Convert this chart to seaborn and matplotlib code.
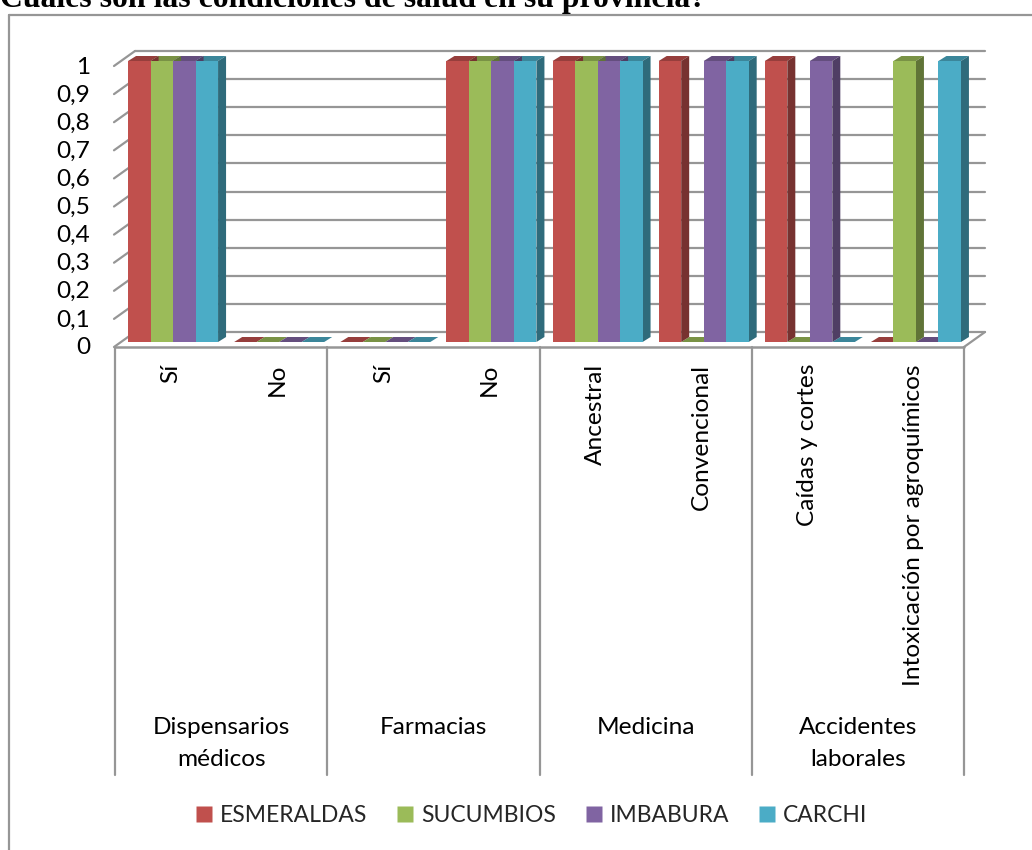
import matplotlib
matplotlib.use("Agg")
import matplotlib.colors as mcolors
import matplotlib.pyplot as plt
import pandas as pd
import seaborn as sns
from matplotlib.lines import Line2D
from matplotlib.patches import Polygon

# data
categories = ["Sí", "No", "Sí ", "No ", "Ancestral", "Convencional",
              "Caídas y cortes", "Intoxicación por agroquímicos"]
tick_labels = ["Sí", "No", "Sí", "No", "Ancestral", "Convencional",
               "Caídas y cortes", "Intoxicación por agroquímicos"]
groups = ["Dispensarios\nmédicos", "Farmacias", "Medicina", "Accidentes\nlaborales"]
esmeraldas = [1, 0, 0, 1, 1, 1, 1, 0]
sucumbios = [1, 0, 0, 1, 1, 0, 0, 1]
imbabura = [1, 0, 0, 1, 1, 1, 1, 0]
carchi = [1, 0, 0, 1, 1, 1, 0, 1]
y_ticks = [0, 0.1, 0.2, 0.3, 0.4, 0.5, 0.6, 0.7, 0.8, 0.9, 1]
y_labels = ["0", "0,1", "0,2", "0,3", "0,4", "0,5", "0,6", "0,7", "0,8", "0,9", "1"]
series_colors = {"ESMERALDAS": "#C0504D", "SUCUMBIOS": "#9BBB59",
                 "IMBABURA": "#8064A2", "CARCHI": "#4BACC6"}

W, H = 1032, 850
GRAY = "#969696"
FONT = "Lato"
FS = 17.6

df = pd.DataFrame({"categoria": categories, "ESMERALDAS": esmeraldas, "SUCUMBIOS": sucumbios,
                   "IMBABURA": imbabura, "CARCHI": carchi})
long_df = df.melt(id_vars="categoria", var_name="provincia", value_name="valor")

sns.set_theme(style="white")
plt.rcParams["font.family"] = [FONT, "DejaVu Sans"]

fig = plt.figure(figsize=(W / 100, H / 100), dpi=100)
# axes box: x=-0.5..7.5 -> px 120..969, y=0..1 -> px 342..61
ax = fig.add_axes([120 / W, 1 - 342 / H, 849 / W, 281 / H])
ax.patch.set_alpha(0)

sns.barplot(data=long_df, x="categoria", y="valor", hue="provincia",
            palette=series_colors, saturation=1, width=0.848, gap=0,
            dodge=True, legend=False, ax=ax, zorder=5)
ax.set_xlim(-0.5, 7.5)
ax.set_ylim(0, 1)
ax.set_xlabel("")
ax.set_ylabel("")
ax.set_xticks([])
ax.set_yticks([])
for s in ax.spines.values():
    s.set_visible(False)


# pixel offsets -> data units
def px_x(p):
    return p * 8 / 849


def px_y(p):
    return p / 281


# fake 3D faces of each bar
dx, dy = px_x(8), px_y(5)
for bar, color in zip(ax.patches, [c for c in series_colors.values() for _ in categories]):
    bar.set_linewidth(0)
    x0, x1 = bar.get_x(), bar.get_x() + bar.get_width()
    h = bar.get_height()
    side = mcolors.to_rgb(color)
    dark = tuple(c * 0.62 for c in side)
    mid = tuple(c * 0.78 for c in side)
    ax.add_patch(Polygon([(x0, h), (x1, h), (x1 + dx, h + dy), (x0 + dx, h + dy)],
                         facecolor=mid, edgecolor="none", zorder=3, clip_on=False))
    if h > 0:
        ax.add_patch(Polygon([(x1, 0), (x1 + dx, dy), (x1 + dx, h + dy), (x1, h)],
                             facecolor=dark, edgecolor="none", zorder=4, clip_on=False))
    bar.set_zorder(5)
    bar.set_clip_on(False)

# back wall gridlines, oblique ticks on the left, floor edge
front_l, front_r = -0.5 - px_x(5), 7.5 - px_x(5)
back_l, back_r = front_l + px_x(20), front_r + px_x(21)
for v in y_ticks:
    front_y = v - px_y(5)
    back_y = v + px_y(10)
    ax.plot([back_l, back_r], [back_y, back_y], color=GRAY, lw=1.6, zorder=1, clip_on=False)
    ax.plot([front_l - px_x(1), back_l], [front_y, back_y], color=GRAY, lw=1.6, zorder=1, clip_on=False)
ax.plot([front_r, back_r], [-px_y(5), px_y(10)], color=GRAY, lw=1.6, zorder=1, clip_on=False)
ax.plot([front_l, front_r], [-px_y(5), -px_y(5)], color=GRAY, lw=1.8, zorder=6, clip_on=False)

# y tick labels
for v, lab in zip(y_ticks, y_labels):
    ax.text(-0.5 - px_x(30), v - px_y(4), lab, ha="right", va="center_baseline",
            fontsize=FS, color="black", clip_on=False)

# category labels, rotated and hung from the floor
for i, lab in enumerate(tick_labels):
    ax.text(i - px_x(2), -px_y(22), lab, rotation=90, ha="center", va="top",
            fontsize=FS, color="black", clip_on=False)

# group separators and names
for k in range(len(groups) + 1):
    sep_x = 2 * k - 0.5 - px_x(5)
    ax.plot([sep_x, sep_x], [-px_y(5), -px_y(433)], color=GRAY, lw=1.6, zorder=6, clip_on=False)
for k, name in enumerate(groups):
    ax.text(2 * k + 0.5 - px_x(5), -px_y(375), name, ha="center", va="top",
            fontsize=FS, color="black", linespacing=1.65, clip_on=False)

# legend
handles = [Line2D([], [], marker="s", linestyle="none", markersize=11,
                  markerfacecolor=c, markeredgecolor="none") for c in series_colors.values()]
fig.legend(handles, list(series_colors), ncol=4, frameon=False, fontsize=16.5,
           loc="center", bbox_to_anchor=(532 / W, 1 - 816 / H),
           handlelength=0.65, handletextpad=0.35, columnspacing=1.35, borderpad=0)

# outer chart frame, cut by the page on the right and bottom
fig.add_artist(Line2D([9 / W, 9 / W], [0, 1 - 15 / H], color=GRAY, lw=1.6))
fig.add_artist(Line2D([9 / W, 1], [1 - 15 / H, 1 - 15 / H], color=GRAY, lw=1.6))

# title sits partly above the page edge
fig.text(0, 1 - 7.5 / H, "Cuáles son las condiciones de salud en su provincia?",
         family="Liberation Serif", fontweight="bold", fontsize=22.9,
         color="black", ha="left", va="baseline")

fig.savefig("out.png", dpi=100)
